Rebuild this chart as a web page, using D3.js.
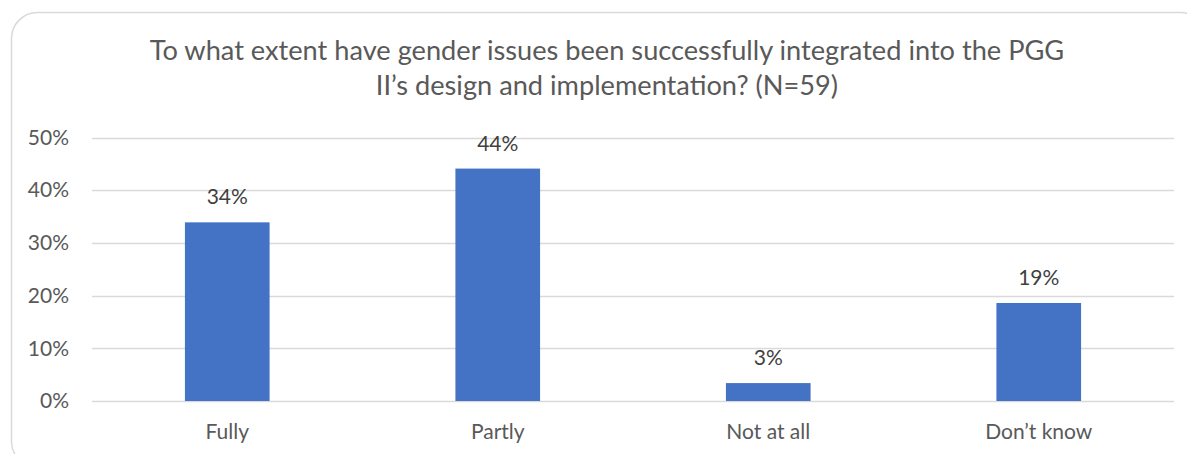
<!DOCTYPE html>
<html><head><meta charset="utf-8">
<script src="https://cdn.jsdelivr.net/npm/d3@7"></script>
<style>body{margin:0;background:#fff}svg{display:block}</style>
</head><body>
<svg id="c" width="1187" height="454"></svg>
<script>
const categories = ["Fully", "Partly", "Not at all", "Don\u2019t know"];
const values = [0.339, 0.441, 0.034, 0.186];
const labels = ["34%", "44%", "3%", "19%"];
const yTicks = [0, 0.1, 0.2, 0.3, 0.4, 0.5];
const titleLines = ["To what extent have gender issues been successfully integrated into the PGG", "II\u2019s design and implementation? (N=59)"];

const font = "Lato, 'Open Sans', sans-serif";
const svg = d3.select("#c");
svg.append("rect").attr("x", 11.5).attr("y", 12.5).attr("width", 1195).attr("height", 455)
  .attr("rx", 26).attr("fill", "#fff").attr("stroke", "#d9d9d9").attr("stroke-width", 1.5);

const m = {left: 92, right: 1174, top: 137.5, bottom: 401};
const x = d3.scaleBand().domain(categories).range([m.left, m.right]).paddingInner(0.687).paddingOuter(0.3435);
const y = d3.scaleLinear().domain([0, 0.5]).range([m.bottom, m.top]);

// gridlines
svg.append("g").selectAll("line").data(yTicks).join("line")
  .attr("x1", m.left).attr("x2", m.right)
  .attr("y1", d => Math.round(y(d)) + 0.5).attr("y2", d => Math.round(y(d)) + 0.5)
  .attr("stroke", "#d9d9d9").attr("stroke-width", 1.3);

// y axis labels
const yAxis = d3.axisLeft(y).tickValues(yTicks).tickFormat(d3.format(".0%")).tickSize(0).tickPadding(23);
const ga = svg.append("g").attr("transform", `translate(${m.left},0)`).call(yAxis);
ga.select(".domain").remove();
ga.selectAll("text").attr("font-family", font).attr("font-size", 21).attr("fill", "#595959");

// x axis labels
const xAxis = d3.axisBottom(x).tickSize(0).tickPadding(23);
const gx = svg.append("g").attr("transform", `translate(0,${m.bottom})`).call(xAxis);
gx.select(".domain").remove();
gx.selectAll("text").attr("font-family", font).attr("font-size", 21).attr("fill", "#595959");

// bars
svg.append("g").selectAll("rect").data(values).join("rect")
  .attr("x", (d, i) => x(categories[i])).attr("width", x.bandwidth())
  .attr("y", d => y(d)).attr("height", d => y(0) - y(d))
  .attr("fill", "#4472C4");

// data labels
svg.append("g").selectAll("text").data(values).join("text")
  .attr("x", (d, i) => x(categories[i]) + x.bandwidth() / 2)
  .attr("y", d => y(d) - 18)
  .attr("text-anchor", "middle").attr("font-family", font).attr("font-size", 21).attr("fill", "#404040")
  .text((d, i) => labels[i]);

// title
const tl = svg.append("g").selectAll("text").data(titleLines).join("text")
  .attr("x", 607).attr("y", (d, i) => 60 + i * 35)
  .attr("text-anchor", "middle").attr("font-family", font).attr("font-size", 25).attr("fill", "#595959")
  .text(d => d);
// fit first line to the reference width
const w0 = tl.nodes()[0].getComputedTextLength();
const fs = 25 * 915 / w0;
tl.attr("font-size", fs);
</script>
</body></html>
